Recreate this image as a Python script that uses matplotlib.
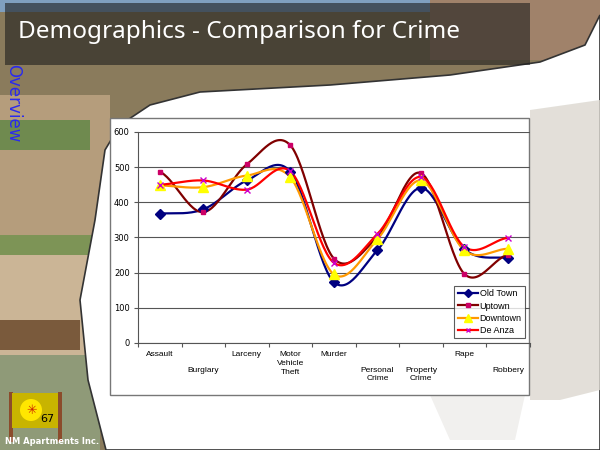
import matplotlib
matplotlib.use('Agg')
import matplotlib.pyplot as plt
from matplotlib.patches import Polygon, Rectangle
import numpy as np

# chart data
categories = ['Assault', 'Burglary', 'Larceny', 'Motor\nVehicle\nTheft', 'Murder',
              'Personal\nCrime', 'Property\nCrime', 'Rape', 'Robbery']
label_row = [0, 1, 0, 0, 0, 1, 1, 0, 1]   # excel staggers the labels

old_town = [368, 380, 462, 487, 173, 264, 441, 266, 242]
uptown = [487, 372, 508, 562, 240, 302, 483, 196, 251]
downtown = [448, 443, 476, 471, 195, 295, 462, 263, 268]
de_anza = [450, 462, 436, 488, 228, 310, 472, 273, 299]

series_names = ['Old Town', 'Uptown', 'Downtown', 'De Anza']
y_ticks = [0, 100, 200, 300, 400, 500, 600]


def excel_smooth(y, n=30):
    # catmull-rom style curve, same as excel "smoothed line"
    y = np.asarray(y, dtype=float)
    k = len(y)
    xs, ys = [], []
    for i in range(k - 1):
        p0 = y[i - 1] if i > 0 else y[i]
        p3 = y[i + 2] if i + 2 < k else y[i + 1]
        p1, p2 = y[i], y[i + 1]
        m1 = (p2 - p0) / 2.0
        m2 = (p3 - p1) / 2.0
        t = np.linspace(0, 1, n, endpoint=(i == k - 2))
        h00 = 2*t**3 - 3*t**2 + 1
        h10 = t**3 - 2*t**2 + t
        h01 = -2*t**3 + 3*t**2
        h11 = t**3 - t**2
        xs.append(i + t)
        ys.append(h00*p1 + h10*m1 + h01*p2 + h11*m2)
    return np.concatenate(xs), np.concatenate(ys)


fig = plt.figure(figsize=(6, 4.5), dpi=100)
fig.patch.set_facecolor('white')

# ---- slide background (rough stand-in for the photos) ----
bg = fig.add_axes([0, 0, 1, 1], zorder=0)
bg.set_xlim(0, 600)
bg.set_ylim(450, 0)
bg.axis('off')

edge = [(600, 15), (585, 45), (540, 62), (450, 75), (330, 85), (200, 92),
        (150, 105), (120, 125), (105, 150), (95, 220), (80, 300),
        (88, 380), (106, 450)]
bg.add_patch(Polygon([(0, 0), (600, 0)] + edge + [(0, 450)], closed=True,
                     facecolor='#8a7b5c', edgecolor='none'))
# some blocks of colour inside the photo strips
bg.add_patch(Rectangle((0, 0), 600, 12, facecolor='#7f9fbf', edgecolor='none'))
bg.add_patch(Rectangle((430, 0), 170, 60, facecolor='#a0826a', edgecolor='none'))
bg.add_patch(Rectangle((0, 95), 110, 140, facecolor='#b59d7c', edgecolor='none'))
bg.add_patch(Rectangle((0, 120), 90, 30, facecolor='#6f8a4f', edgecolor='none'))
bg.add_patch(Rectangle((0, 235), 100, 20, facecolor='#7d9456', edgecolor='none'))
bg.add_patch(Rectangle((0, 255), 90, 100, facecolor='#cbb596', edgecolor='none'))
bg.add_patch(Rectangle((0, 320), 80, 30, facecolor='#7a5a3c', edgecolor='none'))
bg.add_patch(Rectangle((0, 355), 100, 95, facecolor='#8f9a78', edgecolor='none'))
# white cut-out edge
bg.add_patch(Polygon(edge + [(600, 450)], closed=True,
                     facecolor='white', edgecolor='#333333', lw=1.2))
# faded picture on the right
bg.add_patch(Polygon([(530, 110), (600, 100), (600, 390), (560, 400), (530, 400)],
                     closed=True, facecolor='#dcd8d0', edgecolor='none', alpha=0.8))
bg.add_patch(Polygon([(430, 395), (525, 395), (515, 440), (450, 440)],
                     closed=True, facecolor='#f1f0ee', edgecolor='none'))
# dark title bar
bg.add_patch(Rectangle((5, 3), 525, 62, facecolor='#1e1e1e', edgecolor='none', alpha=0.6))
bg.text(18, 32, 'Demographics - Comparison for Crime', color='white',
        fontsize=17.5, family='Noto Sans', va='center', ha='left')
bg.text(4, 64, 'Overview', color='#2a2aee', fontsize=12, rotation=-90,
        va='top', ha='left', family='DejaVu Sans')
# logo bits bottom left
bg.add_patch(Rectangle((9, 392), 4, 50, facecolor='#8b4b2b', edgecolor='none'))
bg.add_patch(Rectangle((58, 392), 4, 50, facecolor='#8b4b2b', edgecolor='none'))
bg.add_patch(Rectangle((12, 393), 46, 35, facecolor='#c8b400', edgecolor='none'))
bg.add_patch(plt.Circle((31, 410), 11, facecolor='#ffe600', edgecolor='none'))
bg.text(32, 410, '✳', color='#cc2200', fontsize=9, ha='center', va='center',
        family='DejaVu Sans')
bg.text(40, 419, '67', color='black', fontsize=8, ha='left', va='center')
bg.text(5, 441, 'NM Apartments Inc.', color='white', fontsize=6,
        fontweight='bold', ha='left', va='center', zorder=5)

# chart area box
bg.add_patch(Rectangle((110, 118), 419, 277, facecolor='white',
                       edgecolor='#777777', lw=1))

# ---- the chart ----
ax = fig.add_axes([0.23, 0.2378, 0.653, 0.469], zorder=2)
ax.patch.set_alpha(0)

styles = [
    dict(color='#000080', marker='D', mfc='#000080', mec='#000080', ms=5),
    dict(color='#800000', marker='s', mfc='#cc0066', mec='#cc0066', ms=3),
    dict(color='#ff9900', marker='^', mfc='#ffff00', mec='#ffff00', ms=7),
    dict(color='#ff0000', marker='x', mfc='#cc00cc', mec='#cc00cc', ms=4),
]
data = [old_town, uptown, downtown, de_anza]
x = np.arange(len(categories))
handles = []
for name, vals, st in zip(series_names, data, styles):
    sx, sy = excel_smooth(vals)
    ax.plot(sx, sy, color=st['color'], lw=1.6, zorder=3)
    ax.plot(x, vals, ls='none', marker=st['marker'], mfc=st['mfc'],
            mec=st['mec'], ms=st['ms'], mew=1, zorder=4)
    h, = ax.plot([], [], color=st['color'], lw=1.6, marker=st['marker'],
                 mfc=st['mfc'], mec=st['mec'], ms=st['ms'] * 0.8, label=name)
    handles.append(h)

ax.set_xlim(-0.5, len(categories) - 0.5)
ax.set_ylim(0, 600)
ax.set_yticks(y_ticks)
ax.set_yticklabels([str(v) for v in y_ticks])
ax.yaxis.grid(True, color='#555555', lw=0.8)
ax.set_axisbelow(True)
for s in ['top', 'right']:
    ax.spines[s].set_visible(False)
ax.spines['left'].set_color('#555555')
ax.spines['bottom'].set_color('#555555')
ax.tick_params(axis='y', labelsize=6, length=3, color='#555555', pad=3)
ax.set_xticks(np.arange(len(categories) + 1) - 0.5)
ax.set_xticklabels([])
ax.tick_params(axis='x', length=3, color='#555555')

for i, (lab, row) in enumerate(zip(categories, label_row)):
    ax.annotate(lab, xy=(i, 0), xycoords='data', xytext=(0, -6 - 11 * row),
                textcoords='offset points', ha='center', va='top',
                fontsize=6, linespacing=1.35, family='Liberation Sans')

leg = ax.legend(handles=handles, loc='lower right', bbox_to_anchor=(1.0, 0.0),
                frameon=True, fancybox=False, handlelength=2.2,
                borderpad=0.4, labelspacing=0.35, handletextpad=0.2,
                prop={'family': 'Liberation Sans', 'size': 6.5})
leg.get_frame().set_edgecolor('#333333')
leg.get_frame().set_linewidth(0.8)

fig.savefig('out.png', dpi=100)
